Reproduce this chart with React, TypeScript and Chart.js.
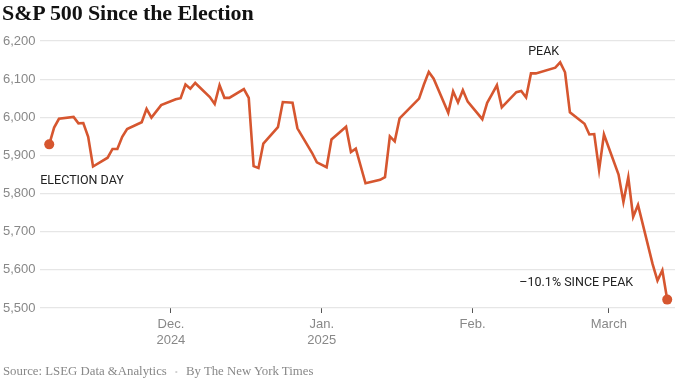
import React, { useEffect, useRef } from "react";
import { Chart, registerables } from "chart.js";

Chart.register(...registerables);

const dates: string[] = [
  "2024-11-06","2024-11-07","2024-11-08","2024-11-11","2024-11-12","2024-11-13","2024-11-14","2024-11-15",
  "2024-11-18","2024-11-19","2024-11-20","2024-11-21","2024-11-22","2024-11-25","2024-11-26","2024-11-27","2024-11-29",
  "2024-12-02","2024-12-03","2024-12-04","2024-12-05","2024-12-06","2024-12-09","2024-12-10","2024-12-11","2024-12-12","2024-12-13",
  "2024-12-16","2024-12-17","2024-12-18","2024-12-19","2024-12-20","2024-12-23","2024-12-24","2024-12-26","2024-12-27",
  "2024-12-30","2024-12-31","2025-01-02","2025-01-03","2025-01-06","2025-01-07","2025-01-08","2025-01-10",
  "2025-01-13","2025-01-14","2025-01-15","2025-01-16","2025-01-17","2025-01-21","2025-01-22","2025-01-23","2025-01-24",
  "2025-01-27","2025-01-28","2025-01-29","2025-01-30","2025-01-31","2025-02-03","2025-02-04","2025-02-05","2025-02-06","2025-02-07",
  "2025-02-10","2025-02-11","2025-02-12","2025-02-13","2025-02-14","2025-02-18","2025-02-19","2025-02-20","2025-02-21",
  "2025-02-24","2025-02-25","2025-02-26","2025-02-27","2025-02-28","2025-03-03","2025-03-04","2025-03-05","2025-03-06","2025-03-07",
  "2025-03-10","2025-03-11","2025-03-12","2025-03-13",
];

const closes: number[] = [
  5929, 5973, 5996, 6001, 5984, 5985, 5949, 5871,
  5894, 5917, 5917, 5949, 5969, 5987, 6022, 5999, 6032,
  6047, 6050, 6086, 6075, 6090, 6053, 6035, 6084, 6051, 6051,
  6074, 6051, 5872, 5867, 5931, 5974, 6040, 6038, 5971,
  5907, 5882, 5869, 5942, 5975, 5909, 5918, 5827,
  5836, 5843, 5950, 5937, 5997, 6049, 6086, 6119, 6101,
  6012, 6068, 6039, 6071, 6041, 5995, 6038, 6061, 6084, 6026,
  6066, 6069, 6052, 6115, 6115, 6130, 6144, 6118, 6013,
  5983, 5955, 5956, 5862, 5955, 5850, 5778, 5843, 5739, 5770,
  5615, 5572, 5599, 5522,
];

const yTicks: number[] = [5500, 5600, 5700, 5800, 5900, 6000, 6100, 6200];
const monthTickDates: string[] = ["2024-12-01", "2025-01-01", "2025-02-01", "2025-03-01"];
const monthTickLabels: string[][] = [["Dec.", "2024"], ["Jan.", "2025"], ["Feb."], ["March"]];

const REF = Date.UTC(2024, 11, 1);
const dayNum = (s: string) => {
  const [y, m, d] = s.split("-").map(Number);
  return (Date.UTC(y, m - 1, d) - REF) / 86400000;
};

const annotations = [
  { text: "ELECTION DAY", index: 0, dx: -9, dy: 37, align: "left" },
  { text: "PEAK", index: 69, dx: -1, dy: -10, align: "right" },
  { text: "\u201310.1% SINCE PEAK", index: closes.length - 1, dx: -34, dy: -17, align: "right" },
];

const LINE = "#d6562f";

export default function App() {
  const ref = useRef<HTMLCanvasElement | null>(null);

  useEffect(() => {
    document.body.style.margin = "0";
    const xs = dates.map(dayNum);
    const data = xs.map((x, i) => ({ x, y: closes[i] }));
    const monthTicks = monthTickDates.map(dayNum);

    const annotPlugin = {
      id: "annot",
      afterDatasetsDraw(chart: any) {
        const ctx = chart.ctx;
        const xs2 = chart.scales.x;
        const ys2 = chart.scales.y;
        ctx.save();
        ctx.font = "12.5px Roboto";
        ctx.fillStyle = "#222";
        ctx.textBaseline = "middle";
        for (const a of annotations) {
          const px = xs2.getPixelForValue(data[a.index].x);
          const py = ys2.getPixelForValue(data[a.index].y);
          ctx.textAlign = a.align;
          ctx.fillText(a.text, px + a.dx, py + a.dy);
        }
        ctx.restore();
      },
    };

    const chart = new Chart(ref.current!, {
      type: "line",
      data: {
        datasets: [
          {
            data,
            borderColor: LINE,
            backgroundColor: LINE,
            borderWidth: 2.6,
            pointRadius: data.map((_, i) => (i === 0 || i === data.length - 1 ? 5 : 0)),
            pointHoverRadius: 0,
            pointBorderWidth: 0,
            tension: 0,
          },
        ],
      },
      options: {
        animation: false,
        responsive: false,
        layout: { padding: { left: 3, right: 3, top: 41, bottom: 22 } },
        plugins: { legend: { display: false }, tooltip: { enabled: false } },
        scales: {
          x: {
            type: "linear",
            min: -26.9,
            max: 103.6,
            afterBuildTicks: (s: any) => {
              s.ticks = monthTicks.map((v) => ({ value: v }));
            },
            afterFit: (s: any) => {
              s.height = 53;
            },
            ticks: {
              autoSkip: false,
              maxRotation: 0,
              padding: 4,
              color: "#888",
              font: { family: "'Liberation Sans', Arial", size: 13, lineHeight: 1.2 },
              callback: (v: any) => {
                const i = monthTicks.indexOf(Number(v));
                return i >= 0 ? monthTickLabels[i] : "";
              },
            },
            grid: { drawOnChartArea: false, drawTicks: true, tickLength: 5, color: "#555", lineWidth: 1 },
            border: { display: false },
          },
          y: {
            min: 5500,
            max: 6200,
            afterBuildTicks: (s: any) => {
              s.ticks = yTicks.map((v) => ({ value: v }));
            },
            afterFit: (s: any) => {
              s.width = 37;
            },
            ticks: {
              crossAlign: "far",
              color: "#888",
              font: { family: "'Liberation Sans', Arial", size: 13 },
              callback: (v: any) => Number(v).toLocaleString("en-US"),
            },
            grid: { color: "#e6e6e6", lineWidth: 1.2, drawTicks: false },
            border: { display: false },
          },
        },
      },
      plugins: [annotPlugin],
    } as any);
    return () => chart.destroy();
  }, []);

  return (
    <div style={{ position: "relative", width: 680, height: 383, background: "#fff", overflow: "hidden" }}>
      <canvas ref={ref} width={680} height={383} style={{ position: "absolute", left: 0, top: 0 }} />
      <div
        style={{
          position: "absolute",
          left: 2,
          top: 0,
          fontFamily: "'Liberation Serif', 'DejaVu Serif', serif",
          fontWeight: 700,
          fontSize: 22,
          color: "#121212",
          whiteSpace: "nowrap",
          letterSpacing: "-0.1px",
        }}
      >
        S&amp;P 500 Since the Election
      </div>
      <div
        style={{
          position: "absolute",
          left: 3,
          top: 364,
          fontFamily: "'Liberation Serif', serif",
          fontSize: 12.8,
          color: "#888",
          whiteSpace: "nowrap",
        }}
      >
        Source: LSEG Data &amp;Analytics
        <span style={{ color: "#d0d0d0", margin: "0 8px", fontSize: 9 }}>•</span>
        By The New York Times
      </div>
    </div>
  );
}
